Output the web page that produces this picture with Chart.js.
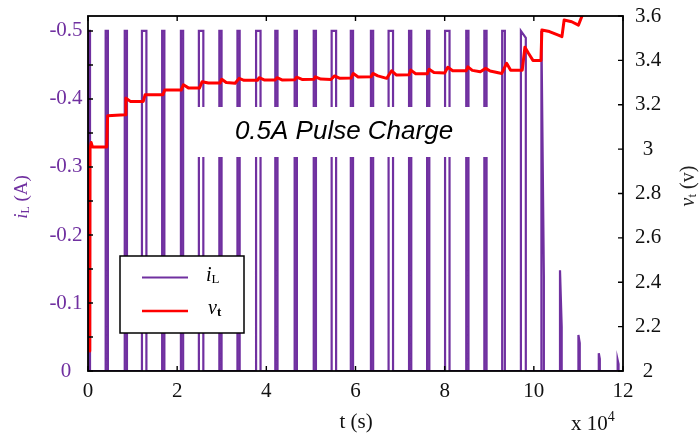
<!DOCTYPE html>
<html>
<head>
<meta charset="utf-8">
<script src="https://cdn.jsdelivr.net/npm/chart.js@4.4.0/dist/chart.umd.min.js"></script>
<style>
  html, body { margin: 0; padding: 0; background: #fff; }
</style>
</head>
<body>
<canvas id="pulse-chart" width="699" height="435"></canvas>
<script>
// 0.5A pulse charge: current i_L (left, reversed) and terminal voltage v_t (right)

// time axis in units of 10^4 s
var xTicks = [0, 2, 4, 6, 8, 10, 12];
var xTickLabels = ['0', '2', '4', '6', '8', '10', '12'];

var iTicks = [0, -0.1, -0.2, -0.3, -0.4, -0.5];
var iTickLabels = ['0', '-0.1', '-0.2', '-0.3', '-0.4', '-0.5'];
var iMinorTicks = [0, -0.05, -0.1, -0.15, -0.2, -0.25, -0.3, -0.35, -0.4, -0.45, -0.5];

var vTicks = [2, 2.2, 2.4, 2.6, 2.8, 3, 3.2, 3.4, 3.6];
var vTickLabels = ['2', '2.2', '2.4', '2.6', '2.8', '3', '3.2', '3.4', '3.6'];

// current pulses (start / end time, level at start / level at end)
var pulseOn  = [0.015, 0.396, 0.824, 1.21, 1.663, 2.084, 2.487, 2.946, 3.352, 3.77,
                4.201, 4.635, 5.063, 5.465, 5.895, 6.346, 6.742, 7.201, 7.606, 8.009,
                8.484, 8.89, 9.29, 9.71, 10.17, 10.587, 11.0, 11.457, 11.88];
var pulseOff = [0.045, 0.446, 0.874, 1.31, 1.713, 2.134, 2.587, 2.996, 3.402, 3.87,
                4.251, 4.685, 5.113, 5.565, 5.945, 6.396, 6.842, 7.251, 7.656, 8.109,
                8.534, 8.94, 9.35, 9.82, 10.225, 10.625, 11.03, 11.48, 11.9];
var pulsePeak = [-0.5, -0.5, -0.5, -0.5, -0.5, -0.5, -0.5, -0.5, -0.5, -0.5,
                 -0.5, -0.5, -0.5, -0.5, -0.5, -0.5, -0.5, -0.5, -0.5, -0.5,
                 -0.5, -0.5, -0.5, -0.5, -0.5, -0.148, -0.053, -0.026, -0.016];
var pulseEnd  = [-0.5, -0.5, -0.5, -0.5, -0.5, -0.5, -0.5, -0.5, -0.5, -0.5,
                 -0.5, -0.5, -0.5, -0.5, -0.5, -0.5, -0.5, -0.5, -0.5, -0.5,
                 -0.5, -0.5, -0.5, -0.49, -0.14, -0.065, -0.041, -0.018, -0.01];

// terminal voltage
var voltT = [0.04, 0.045, 0.07, 0.1, 0.42, 0.44, 0.83, 0.85, 0.95, 1.24,
             1.28, 1.68, 1.72, 2.09, 2.14, 2.26, 2.5, 2.56, 2.7, 2.96,
             3.0, 3.1, 3.3, 3.39, 3.5, 3.8, 3.84, 3.95, 4.2, 4.24,
             4.35, 4.64, 4.68, 4.8, 5.07, 5.1, 5.22, 5.45, 5.53, 5.65,
             5.9, 5.95, 6.06, 6.35, 6.39, 6.5, 6.7, 6.81, 6.92, 7.2,
             7.24, 7.35, 7.61, 7.65, 7.76, 8.0, 8.07, 8.18, 8.48, 8.52,
             8.62, 8.8, 8.92, 9.02, 9.28, 9.39, 9.48, 9.74, 9.8, 9.88,
             9.98, 10.16, 10.18, 10.35, 10.55, 10.63, 10.68, 10.85, 11.0, 11.1];
var voltV = [2.09, 3.0, 3.03, 3.01, 3.01, 3.15, 3.155, 3.23, 3.215, 3.215,
             3.245, 3.245, 3.266, 3.266, 3.29, 3.275, 3.275, 3.304, 3.298, 3.298,
             3.315, 3.3, 3.297, 3.319, 3.31, 3.31, 3.322, 3.312, 3.312, 3.322,
             3.312, 3.313, 3.324, 3.314, 3.315, 3.326, 3.316, 3.314, 3.33, 3.319,
             3.32, 3.341, 3.325, 3.326, 3.341, 3.33, 3.319, 3.353, 3.334, 3.335,
             3.356, 3.34, 3.34, 3.36, 3.345, 3.343, 3.369, 3.353, 3.353, 3.371,
             3.355, 3.349, 3.364, 3.352, 3.341, 3.387, 3.356, 3.356, 3.459, 3.432,
             3.4, 3.4, 3.537, 3.53, 3.514, 3.507, 3.582, 3.574, 3.559, 3.61];

var purple = '#7030a0';
var serif = '"Liberation Serif", "Times New Roman", serif';

var currentData = [];
pulseOn.forEach(function(on, k) {
  currentData.push({x: on, y: 0}, {x: on, y: pulsePeak[k]},
                   {x: pulseOff[k], y: pulseEnd[k]}, {x: pulseOff[k], y: 0});
});
var voltData = voltT.map(function(t, k) { return {x: t, y: voltV[k]}; });

// text with a subscript / superscript piece
function richText(c, parts, x, y, align) {
  var w = 0;
  parts.forEach(function(p) { c.font = p.font; w += c.measureText(p.t).width; });
  var cx = align === 'center' ? x - w / 2 : x;
  c.textAlign = 'left';
  parts.forEach(function(p) {
    c.font = p.font;
    c.fillText(p.t, cx, y + (p.dy || 0));
    cx += c.measureText(p.t).width;
  });
}

var decor = {
  id: 'decor',
  beforeDraw: function(chart) {
    var c = chart.ctx;
    c.save();
    c.fillStyle = '#fff';
    c.fillRect(0, 0, chart.width, chart.height);
    c.restore();
  },
  afterDatasetsDraw: function(chart) {
    var c = chart.ctx, a = chart.chartArea;
    var sx = chart.scales.x, si = chart.scales.yI, sv = chart.scales.yV;
    c.save();

    // title box
    c.fillStyle = '#fff';
    c.fillRect(195, 107, 300, 50);
    c.fillStyle = '#000';
    c.font = 'italic 26px "Liberation Sans", Arial, sans-serif';
    c.textAlign = 'center';
    c.textBaseline = 'middle';
    c.fillText('0.5A Pulse Charge', 344, 132);

    // legend
    c.fillStyle = '#fff';
    c.fillRect(120, 256, 124, 77);
    c.strokeStyle = '#000';
    c.lineWidth = 1.5;
    c.strokeRect(120, 256, 124, 77);
    c.lineWidth = 2;
    c.strokeStyle = purple;
    c.beginPath(); c.moveTo(142, 277.5); c.lineTo(188, 277.5); c.stroke();
    c.strokeStyle = '#ff0000';
    c.lineWidth = 2.5;
    c.beginPath(); c.moveTo(142, 311); c.lineTo(188, 311); c.stroke();
    c.fillStyle = '#000';
    c.textBaseline = 'middle';
    richText(c, [{t: 'i', font: 'italic 20px ' + serif}, {t: 'L', font: '13px ' + serif, dy: 4}], 206, 276, 'left');
    richText(c, [{t: 'v', font: 'italic 20px ' + serif}, {t: 't', font: 'bold 13px ' + serif, dy: 4}], 208, 309, 'left');

    // frame
    c.strokeStyle = '#000';
    c.lineWidth = 1.8;
    c.strokeRect(a.left, a.top, a.right - a.left, a.bottom - a.top);

    // inward ticks
    c.lineWidth = 1.4;
    c.beginPath();
    iMinorTicks.forEach(function(v) {
      var y = si.getPixelForValue(v);
      c.moveTo(a.left, y); c.lineTo(a.left + 5, y);
    });
    vTicks.forEach(function(v) {
      var y = sv.getPixelForValue(v);
      c.moveTo(a.right, y); c.lineTo(a.right - 5, y);
    });
    xTicks.forEach(function(t) {
      var x = sx.getPixelForValue(t);
      c.moveTo(x, a.bottom); c.lineTo(x, a.bottom - 5);
      c.moveTo(x, a.top); c.lineTo(x, a.top + 5);
    });
    c.stroke();

    // tick labels
    c.textAlign = 'center';
    c.textBaseline = 'middle';
    c.font = '21px ' + serif;
    c.fillStyle = purple;
    iTicks.forEach(function(v, k) { c.fillText(iTickLabels[k], 66, si.getPixelForValue(v)); });
    c.fillStyle = '#111';
    vTicks.forEach(function(v, k) { c.fillText(vTickLabels[k], 648, sv.getPixelForValue(v)); });
    xTicks.forEach(function(t, k) { c.fillText(xTickLabels[k], sx.getPixelForValue(t), 391); });

    // axis titles
    c.fillText('t (s)', 356, 422);
    richText(c, [{t: 'x 10', font: '21px ' + serif}, {t: '4', font: '14px ' + serif, dy: -7}], 571, 424, 'left');

    c.save();
    c.translate(22, 197);
    c.rotate(-Math.PI / 2);
    c.fillStyle = purple;
    richText(c, [{t: 'i', font: 'italic 19px ' + serif}, {t: 'L', font: '12px ' + serif, dy: 4},
                 {t: ' (A)', font: '19px ' + serif}], 0, 0, 'center');
    c.restore();

    c.save();
    c.translate(689, 186);
    c.rotate(-Math.PI / 2);
    c.fillStyle = '#222';
    richText(c, [{t: 'v', font: 'italic 20px ' + serif}, {t: 't', font: '13px ' + serif, dy: 4},
                 {t: ' (v)', font: '20px ' + serif}], 0, 0, 'center');
    c.restore();

    c.restore();
  }
};

var ctx = document.getElementById('pulse-chart').getContext('2d');
new Chart(ctx, {
  type: 'line',
  data: {
    datasets: [{
      label: 'v_t',
      data: voltData,
      yAxisID: 'yV',
      borderColor: '#ff0000',
      borderWidth: 3,
      borderJoinStyle: 'round',
      borderCapStyle: 'round',
      pointRadius: 0,
      tension: 0
    }, {
      label: 'i_L',
      data: currentData,
      yAxisID: 'yI',
      borderColor: purple,
      borderWidth: 2.2,
      pointRadius: 0,
      tension: 0
    }]
  },
  options: {
    responsive: false,
    animation: false,
    events: [],
    layout: {padding: {left: 88, right: 76, top: 16, bottom: 64}},
    plugins: {
      legend: {display: false},
      tooltip: {enabled: false}
    },
    scales: {
      x: {type: 'linear', min: 0, max: 12, display: false},
      yI: {type: 'linear', position: 'left', min: -0.522, max: 0, reverse: true, display: false},
      yV: {type: 'linear', position: 'right', min: 2, max: 3.6, display: false}
    }
  },
  plugins: [decor]
});
</script>
</body>
</html>
